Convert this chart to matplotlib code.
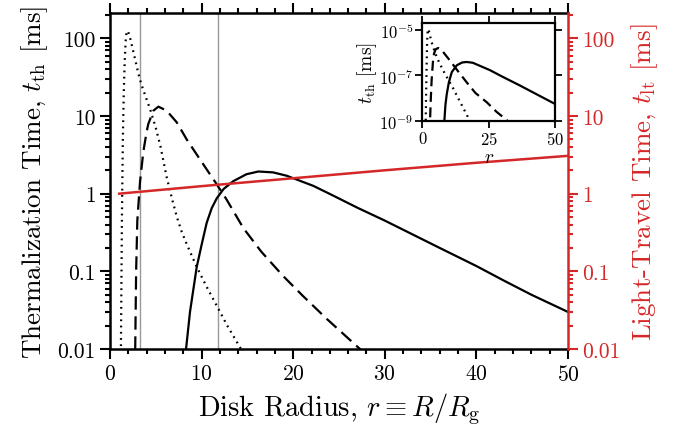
import numpy as np
import matplotlib
matplotlib.use("Agg")
import matplotlib.pyplot as plt
from matplotlib.ticker import FixedLocator, FixedFormatter, LogLocator, NullFormatter, NullLocator

plt.rcParams['font.family'] = 'serif'
plt.rcParams['font.serif'] = ['cmr10']
plt.rcParams['mathtext.fontset'] = 'cm'
plt.rcParams['axes.unicode_minus'] = False
plt.rcParams['axes.formatter.use_mathtext'] = True

RED = '#d62728'

# ---- main panel data (r, thermalization time in ms) ----
r_dot = [1.15, 1.22, 1.3, 1.4, 1.5, 1.6, 1.7, 1.8, 1.9, 2.0, 2.2, 2.5, 2.8, 3.1, 3.4, 3.8,
         4.4, 5.0, 5.5, 6.2, 6.8, 7.3, 7.8, 8.4, 9.5, 10.5, 11.6, 12.8, 14.3, 15.0]
t_dot = [0.003, 0.03, 0.5, 5, 20, 50, 90, 120, 125, 120, 100, 71, 50, 35, 26, 19,
         12, 7, 4.1, 1.6, 0.83, 0.5, 0.33, 0.22, 0.112, 0.065, 0.037, 0.02, 0.01, 0.007]

r_dash = [2.65, 2.75, 2.85, 2.98, 3.27, 3.64, 4.0, 4.18, 4.73, 5.28, 6.19, 7.28, 8.37, 9.83,
          11.65, 12.7, 14.56, 16.5, 18.9, 21.0, 23.65, 26.9, 27.5]
t_dash = [0.003, 0.01, 0.1, 0.45, 1.4, 3.5, 6.3, 7.9, 11.7, 13.2, 11.7, 8.3, 5.0, 2.75,
          1.32, 0.85, 0.36, 0.18, 0.087, 0.049, 0.0245, 0.011, 0.0095]

r_sol = [8.2, 8.3, 8.73, 9.46, 10.0, 10.55, 11.1, 11.65, 12.4, 13.46, 14.9, 16.2, 17.8, 19.3,
         22.2, 24.4, 27, 30, 33, 36, 40, 43, 46, 50]
t_sol = [0.006, 0.01, 0.03, 0.113, 0.22, 0.42, 0.65, 0.87, 1.15, 1.45, 1.78, 1.93, 1.88, 1.7,
         1.26, 0.94, 0.66, 0.45, 0.30, 0.20, 0.117, 0.076, 0.050, 0.030]

r_lt = [1, 10, 20, 30, 40, 50]
t_lt = [1.0, 1.25, 1.58, 2.0, 2.5, 3.07]

r_vlines = [3.3, 11.8]

# ---- inset data ----
ri_dot = [1.2, 1.27, 1.4, 1.6, 1.8, 2.0, 2.3, 2.7, 3.3, 4.1, 5.5, 7.9, 11.7, 14.5, 17.3, 18.0]
ti_dot = [3e-10, 1e-9, 1e-8, 2e-7, 3e-6, 9e-6, 1.1e-5, 7e-6, 3.5e-6, 1.7e-6, 6e-7, 1.6e-7,
          2.6e-8, 6e-9, 1.4e-9, 9e-10]

ri_dash = [2.8, 2.9, 3.2, 3.5, 4.0, 4.4, 5.0, 6.0, 7.5, 10.4, 13.5, 16.7, 20, 24.3, 28, 31.8, 32.5]
ti_dash = [3e-10, 1e-9, 1e-8, 6e-8, 4e-7, 9e-7, 1.4e-6, 1.6e-6, 1.2e-6, 4.5e-7, 1.5e-7, 5e-8,
           1.7e-8, 6.6e-9, 2.5e-9, 1.1e-9, 8e-10]

ri_sol = [8.2, 8.3, 8.7, 9.2, 10, 11.1, 13.0, 15, 16.7, 19, 25.5, 30, 36.8, 43, 50]
ti_sol = [5e-10, 1e-9, 5e-9, 1.5e-8, 5e-8, 1.4e-7, 2.8e-7, 3.7e-7, 3.9e-7, 3.6e-7, 1.7e-7,
          9e-8, 3.6e-8, 1.5e-8, 5.6e-9]

ytick_vals = [0.01, 0.1, 1, 10, 100]
ytick_labels = ['0.01', '0.1', '1', '10', '100']
xtick_vals = [0, 10, 20, 30, 40, 50]
inset_xticks = [0, 25, 50]
inset_yticks = [1e-9, 1e-7, 1e-5]
inset_ylabels = [r'$10^{-9}$', r'$10^{-7}$', r'$10^{-5}$']

fig = plt.figure(figsize=(6.92, 4.39), dpi=100)
ax = fig.add_axes([0.1590, 0.2027, 0.6618, 0.7647])

lw = 1.6
ax.plot(r_dot, t_dot, color='black', lw=lw, linestyle=(0, (0.8, 2.0)))
ax.plot(r_dash, t_dash, color='black', lw=lw, linestyle=(0, (6, 3)))
ax.plot(r_sol, t_sol, color='black', lw=lw, linestyle='-')
for v in r_vlines:
    ax.axvline(v, color='#999999', lw=1.0, zorder=0)

ax.set_yscale('log')
ax.set_xlim(0, 50)
ax.set_ylim(0.01, 210)
ax.yaxis.set_major_locator(FixedLocator(ytick_vals))
ax.yaxis.set_major_formatter(FixedFormatter(ytick_labels))
ax.yaxis.set_minor_locator(LogLocator(base=10, subs=np.arange(2, 10)))
ax.yaxis.set_minor_formatter(NullFormatter())
ax.set_xticks(xtick_vals)
ax.xaxis.set_minor_locator(FixedLocator(np.arange(0, 51, 2)))
ax.tick_params(which='both', direction='out', top=True, right=False, width=1.5, labelsize=15.5)
ax.tick_params(which='major', length=7)
ax.tick_params(which='minor', length=3.5)
for s in ['left', 'bottom', 'top']:
    ax.spines[s].set_linewidth(1.8)
ax.spines['right'].set_visible(False)
ax.set_xlabel(r'Disk Radius, $r \equiv R/R_{\mathrm{g}}$', fontsize=20.5, labelpad=5)
ax.set_ylabel(r'Thermalization Time, $t_{\mathrm{th}}$ [ms]', fontsize=19.5, labelpad=5)

ax2 = ax.twinx()
ax2.plot(r_lt, t_lt, color=RED, lw=1.8)
ax2.set_yscale('log')
ax2.set_ylim(0.01, 210)
ax2.set_xlim(0, 50)
ax2.yaxis.set_major_locator(FixedLocator(ytick_vals))
ax2.yaxis.set_major_formatter(FixedFormatter(ytick_labels))
ax2.yaxis.set_minor_locator(LogLocator(base=10, subs=np.arange(2, 10)))
ax2.yaxis.set_minor_formatter(NullFormatter())
ax2.tick_params(which='both', direction='out', colors=RED, width=1.5, labelsize=15.5)
ax2.tick_params(which='major', length=7)
ax2.tick_params(which='minor', length=3.5)
for s in ['left', 'bottom', 'top']:
    ax2.spines[s].set_visible(False)
ax2.spines['right'].set_color(RED)
ax2.spines['right'].set_linewidth(1.8)
ax2.set_ylabel(r'Light-Travel Time, $t_{\mathrm{lt}}$ [ms]', fontsize=19.5, color=RED, labelpad=6)

# ---- inset ----
axi = fig.add_axes([0.6103, 0.7221, 0.1918, 0.2232])
axi.plot(ri_dot, ti_dot, color='black', lw=1.6, linestyle=(0, (0.8, 2.0)))
axi.plot(ri_dash, ti_dash, color='black', lw=1.6, linestyle=(0, (4.5, 2.5)))
axi.plot(ri_sol, ti_sol, color='black', lw=1.6)
axi.set_yscale('log')
axi.set_xlim(0, 50)
axi.set_ylim(1e-9, 2e-5)
axi.yaxis.set_major_locator(FixedLocator(inset_yticks))
axi.yaxis.set_major_formatter(FixedFormatter(inset_ylabels))
axi.yaxis.set_minor_locator(NullLocator())
axi.set_xticks(inset_xticks)
axi.tick_params(which='both', direction='out', top=True, right=True, width=1.3, length=5,
                labelsize=12, pad=1.5)
for s in axi.spines.values():
    s.set_linewidth(1.6)
axi.set_xlabel(r'$r$', fontsize=14, labelpad=0.5)
axi.set_ylabel(r'$t_{\mathrm{th}}$ [ms]', fontsize=14, labelpad=0)

fig.savefig('out.png', dpi=100)
